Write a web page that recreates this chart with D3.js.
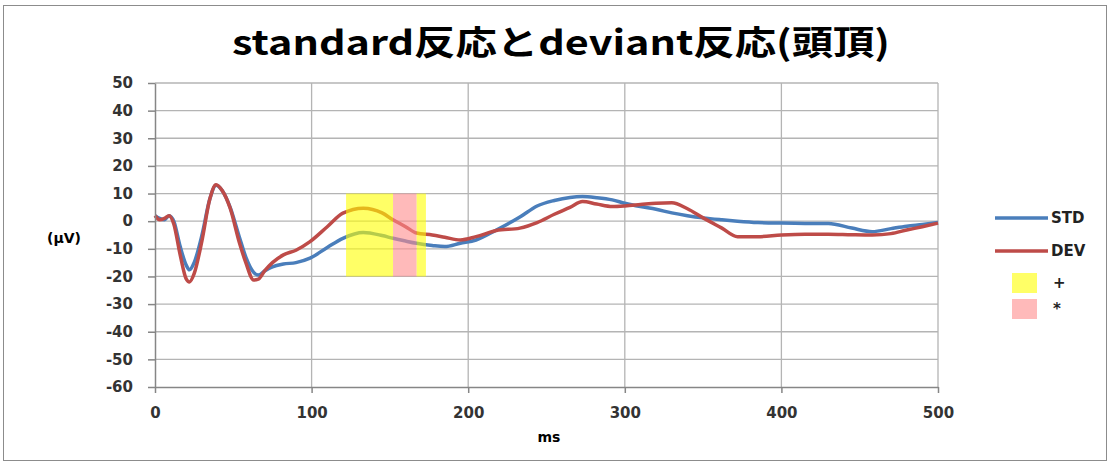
<!DOCTYPE html>
<html>
<head>
<meta charset="utf-8">
<script src="https://cdn.jsdelivr.net/npm/d3@7"></script>
<style>
  html, body { margin: 0; padding: 0; background: #fff; }
  svg text { font-family: "DejaVu Sans", sans-serif; }
</style>
</head>
<body>
<div id="chart"></div>
<script>
// time points (ms), shared by both series
const ms = [0, 3, 6, 9, 12, 16, 20, 22, 25, 30, 35, 39, 43, 48, 54, 58, 63, 66, 70, 75,
  82, 90, 99, 110, 120, 133, 145, 152, 160, 167, 177, 185, 195, 205, 218, 233, 244, 255, 265, 273,
  282, 292, 300, 310, 320, 330, 340, 350, 362, 372, 385, 400, 415, 430, 445, 458, 470, 480, 490, 500]

const stdValues = [2, 1, 0.5, 2, 0, -9, -16, -17.6, -15, -5, 8, 13, 11, 5, -6, -13, -18.5, -19.5, -18, -16.5,
  -15.5, -15, -13.4, -9.5, -6.2, -4.1, -5.2, -6.2, -7.2, -8, -8.8, -9.2, -8, -6.8, -3.2, 1.5, 5.5, 7.5, 8.6, 8.9,
  8.5, 7.7, 6.5, 5.3, 4.3, 3, 2, 1.2, 0.5, 0, -0.5, -0.7, -0.8, -0.8, -2.5, -3.8, -2.7, -1.8, -1.2, -0.5]

const devValues = [2, 0.5, 1, 2, -1, -12, -21, -22, -19, -7, 8, 13.2, 11, 4.7, -8, -15, -21.3, -21, -18, -15,
  -12.2, -10.5, -7.4, -2, 2.9, 4.7, 3, 0.5, -2, -4.3, -5, -5.8, -6.8, -5.6, -3.4, -2.5, -0.5, 2.5, 5, 7.1,
  6.2, 5.3, 5.5, 6, 6.5, 6.7, 4.5, 1.2, -2.5, -5.6, -5.6, -5, -4.7, -4.7, -4.9, -5, -4.5, -3.2, -2, -0.7]

// significance windows: [start ms, end ms]
const plusRange = [122, 173]
const starRange = [152, 167]
const bandValues = [-20, 10]

const xTicks = [0, 100, 200, 300, 400, 500]
const yTicks = [-60, -50, -40, -30, -20, -10, 0, 10, 20, 30, 40, 50]
const seriesNames = ['STD', 'DEV']
const bandNames = ['+', '*']

const W = 1111, H = 465
const colors = { STD: '#4a7ebb', DEV: '#be4b48', plus: '#ffff00', star: '#ff8c8c' }

const svg = d3.select('#chart').append('svg').attr('width', W).attr('height', H)

// outer frame
svg.append('rect')
  .attr('x', 3.5).attr('y', 5.5).attr('width', 1103).attr('height', 455)
  .attr('fill', '#fff').attr('stroke', '#8c8c8c').attr('stroke-width', 1)

const x = d3.scaleLinear().domain([0, 500]).range([155, 938])
const y = d3.scaleLinear().domain([-60, 50]).range([387, 83])

// grid
svg.append('g').selectAll('line').data(yTicks.filter(d => d !== -60)).enter().append('line')
  .attr('x1', x(0)).attr('x2', x(500))
  .attr('y1', d => y(d)).attr('y2', d => y(d))
  .attr('stroke', '#b4b4b4').attr('stroke-width', 1.3)
svg.append('g').selectAll('line').data(xTicks.filter(d => d !== 0)).enter().append('line')
  .attr('x1', d => x(d)).attr('x2', d => x(d))
  .attr('y1', y(50)).attr('y2', y(-60))
  .attr('stroke', '#b4b4b4').attr('stroke-width', 1.3)

// series lines
const data = ms.map((t, i) => ({ t, STD: stdValues[i], DEV: devValues[i] }))
seriesNames.forEach(name => {
  const line = d3.line().x(d => x(d.t)).y(d => y(d[name])).curve(d3.curveMonotoneX)
  svg.append('path').datum(data)
    .attr('d', line)
    .attr('fill', 'none')
    .attr('stroke', colors[name])
    .attr('stroke-width', 3.5)
    .attr('stroke-linejoin', 'round')
})

// shaded windows drawn on top, semi transparent (yellow split around the pink window)
const bands = [
  { a: plusRange[0], b: starRange[0], c: colors.plus },
  { a: starRange[1], b: plusRange[1], c: colors.plus },
  { a: starRange[0], b: starRange[1], c: colors.star }
]
svg.append('g').selectAll('rect').data(bands).enter().append('rect')
  .attr('x', d => x(d.a)).attr('width', d => x(d.b) - x(d.a))
  .attr('y', y(bandValues[1])).attr('height', y(bandValues[0]) - y(bandValues[1]))
  .attr('fill', d => d.c).attr('opacity', 0.6)

// axes
const fmt = d => String(d)
const yAxis = svg.append('g').attr('transform', `translate(${x(0)},0)`)
  .call(d3.axisLeft(y).tickValues(yTicks).tickFormat(fmt).tickSize(7).tickPadding(15).tickSizeOuter(0))
const xAxis = svg.append('g').attr('transform', `translate(0,${y(-60)})`)
  .call(d3.axisBottom(x).tickValues(xTicks).tickFormat(fmt).tickSize(6).tickPadding(14).tickSizeOuter(0))
;[yAxis, xAxis].forEach(g => {
  g.select('.domain').attr('stroke', '#868686').attr('stroke-width', 1.5)
  g.selectAll('.tick line').attr('stroke', '#868686').attr('stroke-width', 1.5)
  g.selectAll('.tick text')
    .attr('fill', '#333')
    .style('font-family', '"DejaVu Sans", sans-serif')
    .style('font-size', '15px')
    .style('font-weight', 'bold')
})

// title and axis labels
svg.append('text')
  .attr('x', 561).attr('y', 55)
  .attr('text-anchor', 'middle')
  .attr('textLength', 658).attr('lengthAdjust', 'spacingAndGlyphs')
  .style('font-family', '"Noto Sans CJK JP", sans-serif')
  .style('font-size', '34px').style('font-weight', 'bold')
  .attr('fill', '#000')
  .text('standard反応とdeviant反応(頭頂)')

svg.append('text')
  .attr('x', 64).attr('y', 243).attr('text-anchor', 'middle')
  .style('font-size', '14px').style('font-weight', 'bold').attr('fill', '#000')
  .text('(μV)')

svg.append('text')
  .attr('x', 549).attr('y', 442).attr('text-anchor', 'middle')
  .style('font-size', '14px').style('font-weight', 'bold').attr('fill', '#000')
  .text('ms')

// legend
const legend = svg.append('g')
seriesNames.forEach((name, i) => {
  const ly = 218 + i * 33
  legend.append('line')
    .attr('x1', 995).attr('x2', 1048).attr('y1', ly).attr('y2', ly)
    .attr('stroke', colors[name]).attr('stroke-width', 3.5)
  legend.append('text')
    .attr('x', 1051).attr('y', ly + 5)
    .style('font-size', '15px').style('font-weight', 'bold').attr('fill', '#222')
    .text(name)
})
bandNames.forEach((name, i) => {
  const ly = 273 + i * 26
  legend.append('rect')
    .attr('x', 1012).attr('y', ly).attr('width', 25).attr('height', 20)
    .attr('fill', i === 0 ? colors.plus : colors.star).attr('opacity', 0.6)
  legend.append('text')
    .attr('x', 1053).attr('y', ly + 15)
    .style('font-size', '15px').style('font-weight', 'bold').attr('fill', '#222')
    .text(name)
})
</script>
</body>
</html>
